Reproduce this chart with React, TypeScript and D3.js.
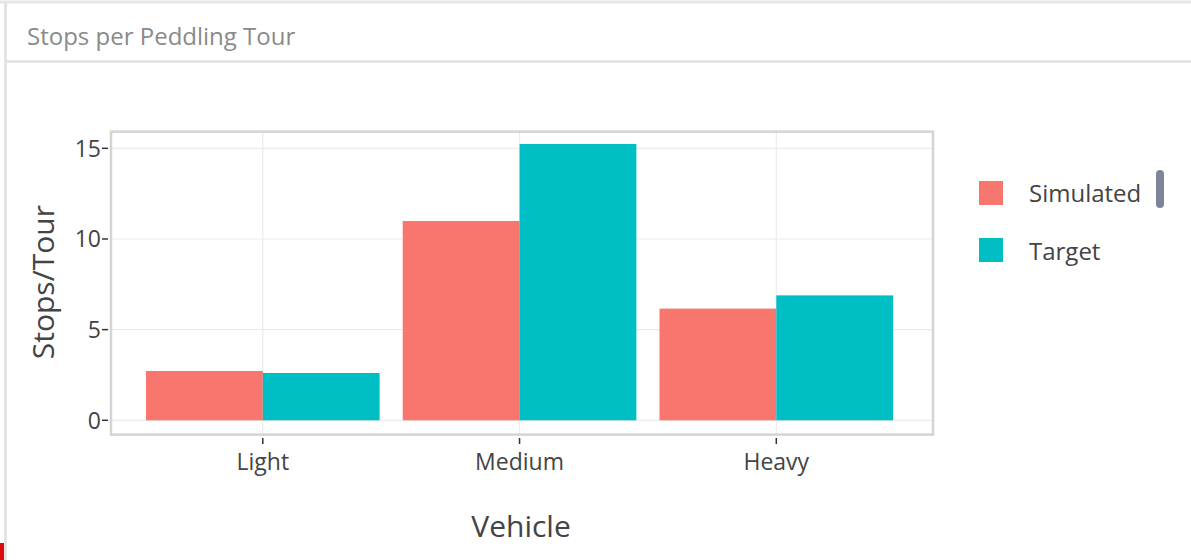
import React from "react";
import * as d3 from "d3";

const categories = ["Light", "Medium", "Heavy"];
const seriesNames = ["Simulated", "Target"];
const simulated = [2.72, 10.99, 6.16];
const target = [2.61, 15.24, 6.89];
const yTicks = [0, 5, 10, 15];
const colors = ["#F8766D", "#00BFC4"];

const W = 1191;
const H = 560;
const FONT = "'Open Sans', 'Noto Sans', sans-serif";

export default function App() {
  const left = 110;
  const right = 933;
  const top = 130.2;
  const bottom = 434.1;

  const xCont = d3.scaleLinear().domain([1, categories.length]).range([262.8, 776.3]);
  const y = d3.scaleLinear().domain([-0.762, 16.0]).range([bottom, top]);
  const barW = (xCont(2) - xCont(1)) * 0.455;

  const series = [simulated, target];

  return (
    <svg width={W} height={H} style={{ position: "absolute", left: 0, top: 0, background: "#fff" }} fontFamily={FONT}>
      <rect x={0} y={0} width={W} height={H} fill="#fff" />
      {/* card borders */}
      <line x1={0} x2={W} y1={2} y2={2} stroke="#e6e6e6" strokeWidth={3} />
      <line x1={5.5} x2={5.5} y1={1} y2={H} stroke="#e4e4e4" strokeWidth={3} />
      <line x1={5} x2={W} y1={61.5} y2={61.5} stroke="#e2e2e2" strokeWidth={2.5} />
      <rect x={0} y={543} width={4} height={17} fill="#dd0b0b" />
      <text x={27} y={45} fontSize={24} fill="#8a8a8a">Stops per Peddling Tour</text>

      {/* grid */}
      {yTicks.map((t) => (
        <line key={"gy" + t} x1={left} x2={right} y1={y(t)} y2={y(t)} stroke="#ebebeb" strokeWidth={1.2} />
      ))}
      {categories.map((c, i) => (
        <line key={"gx" + c} x1={xCont(i + 1)} x2={xCont(i + 1)} y1={top} y2={bottom} stroke="#ebebeb" strokeWidth={1.2} />
      ))}

      {/* bars */}
      {categories.map((c, i) =>
        series.map((s, j) => {
          const x0 = xCont(i + 1) - barW + j * barW;
          return (
            <rect
              key={c + j}
              x={x0}
              y={y(s[i])}
              width={barW}
              height={y(0) - y(s[i])}
              fill={colors[j]}
            />
          );
        })
      )}

      {/* panel border */}
      <rect x={left + 1} y={top + 1.5} width={right - left - 1} height={bottom - top - 1} fill="none" stroke="#d4d4d4" strokeWidth={2.5} />

      {/* y axis */}
      {yTicks.map((t) => (
        <g key={"yt" + t}>
          <line x1={102} x2={108} y1={y(t)} y2={y(t)} stroke="#333" strokeWidth={1.5} />
          <text x={101} y={y(t)} dy="0.36em" textAnchor="end" fontSize={23} fill="#444">{t}</text>
        </g>
      ))}
      {/* x axis */}
      {categories.map((c, i) => (
        <g key={"xt" + c}>
          <line x1={xCont(i + 1)} x2={xCont(i + 1)} y1={438} y2={444} stroke="#333" strokeWidth={1.5} />
          <text x={xCont(i + 1)} y={470} textAnchor="middle" fontSize={23} fill="#444">{c}</text>
        </g>
      ))}

      <text x={521} y={537} textAnchor="middle" fontSize={30} fill="#444">Vehicle</text>
      <text transform={`translate(54, ${(top + bottom) / 2}) rotate(-90)`} textAnchor="middle" fontSize={30} fill="#444">Stops/Tour</text>

      {/* legend */}
      {seriesNames.map((n, j) => (
        <g key={n}>
          <rect x={979} y={181 + j * 57} width={24} height={24} fill={colors[j]} />
          <text x={1029} y={202 + j * 58} fontSize={24} fill="#444">{n}</text>
        </g>
      ))}
      <rect x={1156} y={170} width={8} height={38} rx={4} fill="#7e8599" />
    </svg>
  );
}
